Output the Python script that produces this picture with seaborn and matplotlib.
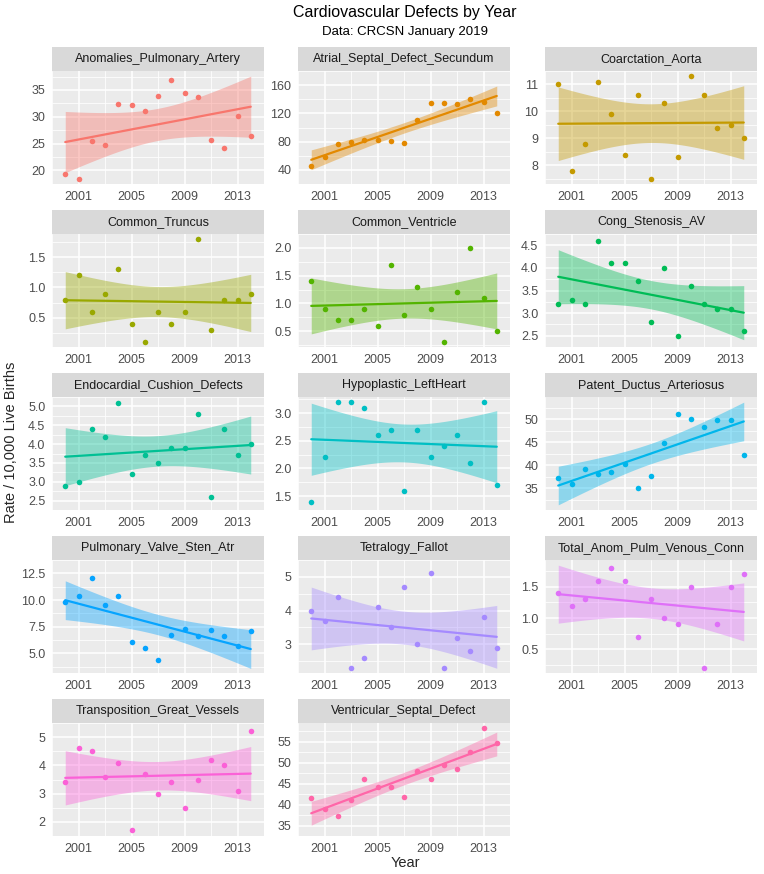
import matplotlib
matplotlib.use("Agg")
import matplotlib.pyplot as plt
import numpy as np
import seaborn as sns
from matplotlib.patches import Rectangle

# --------------------------------------------------------------------------- #
# Data (rate per 10,000 live births)
# --------------------------------------------------------------------------- #
YEARS = list(range(2000, 2015))

DEFECTS = [
    "Anomalies_Pulmonary_Artery", "Atrial_Septal_Defect_Secundum", "Coarctation_Aorta",
    "Common_Truncus", "Common_Ventricle", "Cong_Stenosis_AV",
    "Endocardial_Cushion_Defects", "Hypoplastic_LeftHeart", "Patent_Ductus_Arteriosus",
    "Pulmonary_Valve_Sten_Atr", "Tetralogy_Fallot", "Total_Anom_Pulm_Venous_Conn",
    "Transposition_Great_Vessels", "Ventricular_Septal_Defect",
]

anomalies_pulmonary_artery = [19.3, 18.4, 25.4, 24.8, 32.3, 32.2, 31.1, 33.8, 36.8, 34.5, 33.6, 25.6, 24.2, 30.2, 26.4]
atrial_septal_defect_secundum = [46, 58, 76, 79, 83, 83, 81, 78, 111, 134, 134, 133, 140, 136, 120]
coarctation_aorta = [11.0, 7.8, 8.8, 11.1, 9.9, 8.4, 10.6, 7.5, 10.3, 8.3, 11.3, 10.6, 9.4, 9.5, 9.0]
common_truncus = [0.8, 1.2, 0.6, 0.9, 1.3, 0.4, 0.1, 0.6, 0.4, 0.6, 1.8, 0.3, 0.8, 0.8, 0.9]
common_ventricle = [1.4, 0.9, 0.7, 0.7, 0.9, 0.6, 1.7, 0.8, 1.3, 0.9, 0.3, 1.2, 2.0, 1.1, 0.5]
cong_stenosis_av = [3.2, 3.3, 3.2, 4.6, 4.1, 4.1, 3.7, 2.8, 4.0, 2.5, 3.6, 3.2, 3.1, 3.1, 2.6]
endocardial_cushion_defects = [2.9, 3.0, 4.4, 4.2, 5.1, 3.2, 3.7, 3.5, 3.9, 3.9, 4.8, 2.6, 4.4, 3.7, 4.0]
hypoplastic_leftheart = [1.4, 2.2, 3.2, 3.2, 3.1, 2.6, 2.7, 1.6, 2.7, 2.2, 2.4, 2.6, 2.1, 3.2, 1.7]
patent_ductus_arteriosus = [37.3, 35.9, 39.1, 38.0, 38.4, 40.3, 35.0, 37.7, 44.8, 51.2, 50.0, 48.2, 49.8, 49.8, 42.2]
pulmonary_valve_sten_atr = [9.8, 10.4, 12.1, 9.5, 10.4, 6.1, 5.5, 4.4, 6.7, 7.3, 6.6, 7.2, 6.6, 5.7, 7.1]
tetralogy_fallot = [4.0, 3.7, 4.4, 2.3, 2.6, 4.1, 3.5, 4.7, 3.0, 5.1, 2.3, 3.2, 2.8, 3.8, 2.9]
total_anom_pulm_venous_conn = [1.4, 1.2, 1.3, 1.6, 1.8, 1.6, 0.7, 1.3, 1.0, 0.9, 1.5, 0.2, 0.9, 1.5, 1.7]
transposition_great_vessels = [3.4, 4.6, 4.5, 3.6, 4.1, 1.7, 3.7, 3.0, 3.4, 2.5, 3.5, 4.2, 4.0, 3.1, 5.2]
ventricular_septal_defect = [41.6, 39.0, 37.2, 41.2, 46.1, 44.1, 44.3, 41.8, 48.1, 46.1, 49.5, 48.4, 52.6, 58.3, 54.6]

SERIES = [
    anomalies_pulmonary_artery, atrial_septal_defect_secundum, coarctation_aorta,
    common_truncus, common_ventricle, cong_stenosis_av,
    endocardial_cushion_defects, hypoplastic_leftheart, patent_ductus_arteriosus,
    pulmonary_valve_sten_atr, tetralogy_fallot, total_anom_pulm_venous_conn,
    transposition_great_vessels, ventricular_septal_defect,
]

# y-axis breaks per facet (free y scales)
Y_TICKS = [
    [20, 25, 30, 35], [40, 80, 120, 160], [8, 9, 10, 11],
    [0.5, 1.0, 1.5], [0.5, 1.0, 1.5, 2.0], [2.5, 3.0, 3.5, 4.0, 4.5],
    [2.5, 3.0, 3.5, 4.0, 4.5, 5.0], [1.5, 2.0, 2.5, 3.0], [35, 40, 45, 50],
    [5.0, 7.5, 10.0, 12.5], [3, 4, 5], [0.5, 1.0, 1.5],
    [2, 3, 4, 5], [35, 40, 45, 50, 55],
]
X_TICKS = [2001, 2005, 2009, 2013]

T_975_DF13 = 2.160  # t quantile for a 95% band with 15 points, 2 params


# --------------------------------------------------------------------------- #
# ggplot-style hue palette (polar LUV, l=65, c=100)
# --------------------------------------------------------------------------- #
def hcl_hex(h, c=100.0, l=65.0):
    xn, yn, zn = 95.047, 100.0, 108.883
    un = 4 * xn / (xn + 15 * yn + 3 * zn)
    vn = 9 * yn / (xn + 15 * yn + 3 * zn)
    u = c * np.cos(np.radians(h))
    v = c * np.sin(np.radians(h))
    y = yn * ((l + 16) / 116) ** 3
    up = u / (13 * l) + un
    vp = v / (13 * l) + vn
    x = 9.0 * y * up / (4 * vp)
    z = -x / 3 - 5 * y + 3 * y / vp
    m = np.array([[3.240479, -1.537150, -0.498535],
                  [-0.969256, 1.875992, 0.041556],
                  [0.055648, -0.204043, 1.057311]])
    rgb = m @ (np.array([x, y, z]) / 100.0)

    def gam(t):
        return 12.92 * t if t <= 0.0031308 else 1.055 * t ** (1 / 2.4) - 0.055

    rgb = [min(max(gam(t), 0), 1) for t in rgb]
    return "#" + "".join(f"{int(round(t * 255)):02X}" for t in rgb)


n = len(DEFECTS)
PALETTE = [hcl_hex(h) for h in np.linspace(15, 375, n + 1)[:-1]]


def lm_band(x, y, grid):
    """Analytic 95% confidence band of a simple linear fit (like geom_smooth(method='lm'))."""
    x = np.asarray(x, float)
    y = np.asarray(y, float)
    b1, b0 = np.polyfit(x, y, 1)
    resid = y - (b0 + b1 * x)
    s = np.sqrt(np.sum(resid ** 2) / (len(x) - 2))
    sxx = np.sum((x - x.mean()) ** 2)
    fit = b0 + b1 * grid
    se = s * np.sqrt(1 / len(x) + (grid - x.mean()) ** 2 / sxx)
    return fit - T_975_DF13 * se, fit + T_975_DF13 * se


# --------------------------------------------------------------------------- #
# Style / layout
# --------------------------------------------------------------------------- #
sns.set_theme(style="darkgrid", rc={
    "axes.facecolor": "#EBEBEB",
    "figure.facecolor": "white",
    "grid.color": "white",
})
plt.rcParams["font.family"] = ["Liberation Sans", "DejaVu Sans"]

W, H = 764, 874
COL_X = [52, 298, 545]
STRIP_TOP = [47, 210, 373, 536, 699]
PANEL_W, PANEL_H, STRIP_H = 212, 113, 24


def px_axes(fig, left, top, width, height):
    return fig.add_axes([left / W, 1 - (top + height) / H, width / W, height / H])


def fmt_ticks(ticks):
    dec = 0
    for t in ticks:
        if not float(t).is_integer():
            dec = max(dec, len(repr(float(t)).split(".")[1]))
    return [f"{t:.{dec}f}" for t in ticks]


def minor_of(ticks):
    step = ticks[1] - ticks[0]
    ext = [ticks[0] - step] + list(ticks) + [ticks[-1] + step]
    return [(a + b) / 2 for a, b in zip(ext[:-1], ext[1:])]


fig = plt.figure(figsize=(W / 100, H / 100), dpi=100)

for i, (name, vals) in enumerate(zip(DEFECTS, SERIES)):
    r, c = divmod(i, 3)
    ax = px_axes(fig, COL_X[c], STRIP_TOP[r] + STRIP_H, PANEL_W, PANEL_H)
    color = PALETTE[i]

    grid = np.linspace(min(YEARS), max(YEARS), 80)
    lo, hi = lm_band(YEARS, vals, grid)
    ax.fill_between(grid, lo, hi, color=color, alpha=0.4, linewidth=0)
    sns.regplot(x=YEARS, y=vals, ax=ax, color=color, ci=None,
                scatter_kws={"s": 16, "linewidths": 0, "alpha": 1},
                line_kws={"lw": 1.6})

    ax.set_xlim(1999.3, 2014.7)
    ax.margins(y=0.05)
    ax.autoscale_view(scalex=False)

    yt = Y_TICKS[i]
    ax.set_xticks(X_TICKS)
    ax.set_xticks([1999, 2003, 2007, 2011, 2015], minor=True)
    ax.set_yticks(yt)
    ax.set_yticklabels(fmt_ticks(yt))
    ax.set_yticks(minor_of(yt), minor=True)
    ax.set_xlabel("")
    ax.set_ylabel("")
    ax.set_axisbelow(True)
    ax.grid(which="major", color="white", lw=1.1)
    ax.grid(which="minor", color="white", lw=0.55)
    for sp in ax.spines.values():
        sp.set_visible(False)
    ax.tick_params(which="major", length=2.8, width=0.8, color="#333333",
                   labelcolor="#4D4D4D", labelsize=9, pad=2)
    ax.tick_params(which="minor", length=0)

    # facet strip
    sh = STRIP_H / PANEL_H
    ax.add_patch(Rectangle((0, 1), 1, sh, transform=ax.transAxes,
                           facecolor="#D9D9D9", edgecolor="none", clip_on=False))
    ax.text(0.5, 1 + sh / 2, name, transform=ax.transAxes, ha="center", va="center",
            fontsize=9, color="#1A1A1A")

fig.text(405 / W, 1 - 13 / H, "Cardiovascular Defects by Year", ha="center", va="center",
         fontsize=11.5, color="black")
fig.text(405 / W, 1 - 32 / H, "Data: CRCSN January 2019", ha="center", va="center",
         fontsize=9.5, color="black")
fig.text(405 / W, 1 - 863 / H, "Year", ha="center", va="center", fontsize=10.5)
fig.text(11 / W, 1 - 442 / H, "Rate / 10,000 Live Births", ha="center", va="center",
         rotation=90, fontsize=10.5)

fig.savefig("out.png", dpi=100)
plt.close(fig)
